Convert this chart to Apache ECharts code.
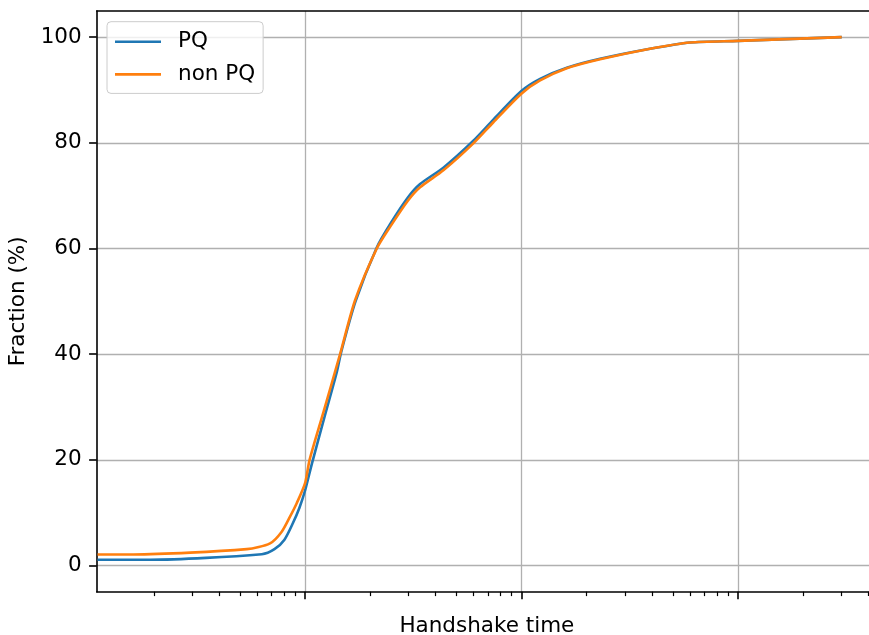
<!DOCTYPE html>
<html>
<head>
<meta charset="utf-8">
<script src="https://cdn.jsdelivr.net/npm/echarts@6/dist/echarts.min.js"></script>
<style>
html,body{margin:0;padding:0;background:#fff;}
#chart{width:869px;height:635px;}
</style>
</head>
<body>
<div id="chart"></div>
<script>
// Handshake time (x, log scale) and cumulative fraction (%)
const pqTime    = [11, 19.2, 63.1, 72.2, 80.3, 87.8, 94.1, 100, 107.4, 122.7, 140.1, 147, 171, 214.4, 247, 299, 339.8, 435.4, 598.9, 741, 998, 1218, 1618, 2305, 3923, 6000, 10000, 30130];
const pqFrac    = [1.1, 1.1, 2.15, 3.1, 4.9, 8.0, 10.9, 14.2, 19.2, 28.0, 36.6, 40.5, 50.0, 60.2, 64.6, 69.7, 72.2, 75.3, 80.4, 84.4, 89.8, 92.1, 94.2, 95.9, 97.8, 99.0, 99.3, 100];
const nonPqTime = [11, 16.1, 53.8, 68.9, 78.0, 85.3, 91.5, 100, 104.9, 121.5, 145.1, 170.2, 214.4, 247, 299, 339.8, 435.4, 598.9, 741, 998, 1218, 1618, 2305, 3923, 6000, 10000, 30130];
const nonPqFrac = [2.1, 2.1, 3.1, 4.2, 6.4, 9.3, 11.8, 15.6, 20.0, 29.0, 40.0, 50.2, 60.0, 64.1, 69.1, 71.6, 74.8, 79.9, 83.9, 89.3, 91.8, 94.1, 95.8, 97.8, 99.0, 99.3, 100];
const seriesNames = ['PQ', 'non PQ'];
const yTicks = [0, 20, 40, 60, 80, 100];
const xMajorTicks = [100, 1000, 10000];
const xMinorTicks = [20, 30, 40, 50, 60, 70, 80, 90, 200, 300, 400, 500, 600, 700, 800, 900, 2000, 3000, 4000, 5000, 6000, 7000, 8000, 9000, 20000, 30000, 40000];

const xMin = 10.9, xMax = 43850;
const font = 'DejaVu Sans';
const fs = 21.5;

const pair = (xs, ys) => xs.map((x, i) => [x, ys[i]]);

const chart = echarts.init(document.getElementById('chart'), null, {renderer: 'canvas'});
chart.setOption({
  animation: false,
  backgroundColor: '#ffffff',
  textStyle: {fontFamily: font},
  grid: {left: 96.7, top: 11, width: 780.3, bottom: 43.3, containLabel: false, outerBoundsMode: 'none'},
  legend: {
    orient: 'vertical',
    left: 107, top: 21.7,
    padding: [9, 8, 8, 8],
    icon: 'rect',
    itemWidth: 46, itemHeight: 2.6, itemGap: 10.7,
    backgroundColor: 'rgba(255,255,255,0.8)',
    borderColor: '#cccccc', borderWidth: 1, borderRadius: 4,
    textStyle: {fontFamily: font, fontSize: fs, color: '#000', lineHeight: 22, padding: [0, 0, 0, 12]},
    data: seriesNames
  },
  xAxis: [
    {
      type: 'log', min: xMin, max: xMax, position: 'bottom',
      name: 'Handshake time', nameLocation: 'middle', nameGap: 23.5,
      nameTextStyle: {fontFamily: font, fontSize: fs, color: '#000'},
      axisLine: {show: true, onZero: false, lineStyle: {color: '#000', width: 1.6}},
      axisTick: {show: true, customValues: xMajorTicks, length: 7.6, lineStyle: {color: '#000', width: 1.6}},
      axisLabel: {show: false},
      splitLine: {show: true, lineStyle: {color: '#b0b0b0', width: 1.3}},
      minorTick: {show: false}, minorSplitLine: {show: false}
    },
    {
      type: 'log', min: xMin, max: xMax, position: 'bottom',
      axisLine: {show: false, onZero: false},
      axisTick: {show: true, customValues: xMinorTicks, length: 4.4, lineStyle: {color: '#000', width: 1.2}},
      axisLabel: {show: false},
      splitLine: {show: false}
    },
    {
      type: 'log', min: xMin, max: xMax, position: 'top',
      axisLine: {show: true, onZero: false, lineStyle: {color: '#000', width: 1.6}},
      axisTick: {show: false}, axisLabel: {show: false}, splitLine: {show: false}
    }
  ],
  yAxis: {
    type: 'value', min: -4.95, max: 104.95,
    name: 'Fraction (%)', nameLocation: 'middle', nameGap: 61,
    nameTextStyle: {fontFamily: font, fontSize: fs, color: '#000'},
    axisLine: {show: true, onZero: false, lineStyle: {color: '#000', width: 1.6}},
    axisTick: {show: true, customValues: yTicks, length: 7.6, lineStyle: {color: '#000', width: 1.6}},
    axisLabel: {show: true, customValues: yTicks, margin: 15, fontFamily: font, fontSize: fs, color: '#000'},
    splitLine: {show: true, lineStyle: {color: '#b0b0b0', width: 1.3}}
  },
  series: [
    {
      name: seriesNames[0], type: 'line', xAxisIndex: 0, symbol: 'none',
      smooth: 0.25,
      data: pair(pqTime, pqFrac),
      lineStyle: {color: '#1f77b4', width: 2.6}, itemStyle: {color: '#1f77b4'}
    },
    {
      name: seriesNames[1], type: 'line', xAxisIndex: 0, symbol: 'none',
      smooth: 0.25,
      data: pair(nonPqTime, nonPqFrac),
      lineStyle: {color: '#ff7f0e', width: 2.6}, itemStyle: {color: '#ff7f0e'}
    }
  ]
});
</script>
</body>
</html>
